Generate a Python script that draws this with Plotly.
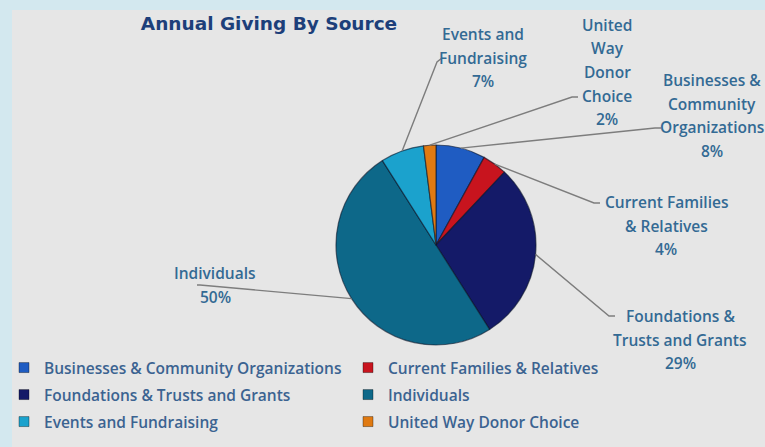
import math
import plotly.graph_objects as go

# ---------------- data ----------------
categories = ["Businesses & Community Organizations", "Current Families & Relatives",
              "Foundations & Trusts and Grants", "Individuals",
              "Events and Fundraising", "United Way Donor Choice"]
values = [8, 4, 29, 50, 7, 2]
label_lines = [["Businesses &", "Community", "Organizations"],
               ["Current Families", "& Relatives"],
               ["Foundations &", "Trusts and Grants"],
               ["Individuals"],
               ["Events and", "Fundraising"],
               ["United", "Way", "Donor", "Choice"]]
colors = ["#1f5cc2", "#c8141e", "#141a68", "#0d6889", "#1ba2cd", "#e07a12"]
title_text = "Annual Giving By Source"

# ---------------- layout geometry (pixels) ----------------
W, H = 765, 447
ML, MR, MT, MB = 0, 0, 0, 0
PW, PH = W - ML - MR, H - MT - MB
CX, CY, R = 436, 245, 100

# per-label layout: (elbow px, end px, text center x, first line y)
label_layout = [
    ((655, 128), (661, 128), 712, 80),
    ((594, 203), (600, 203), 666, 202),
    ((609, 316), (615, 316), 680, 316),
    ((200, 285), (197, 285), 215, 273),
    ((437, 62), (442, 58), 483, 34),
    ((572, 97), (578, 97), 607, 25),
]
LINE_SP = 23.5

# legend rows (center y, px) and left x of first column marker centre
legend_rows_y = [368, 395, 422]
LEG_MARKER_X = 24
LEG_COL_SP = 344

def px2paper(x, y):
    return (x - ML) / PW, (H - MB - y) / PH

TEXT_COLOR = "#336a94"
LEG_COLOR = "#3b6391"
FONT = "Open Sans"

fig = go.Figure()
fig.add_trace(go.Pie(
    labels=categories, values=values, sort=False, direction="clockwise",
    rotation=0, textinfo="none", hoverinfo="label+percent", showlegend=False,
    marker=dict(colors=colors, line=dict(color="rgba(10,20,40,0.6)", width=1.2)),
    domain=dict(x=[(CX - R - ML) / PW, (CX + R - ML) / PW],
                y=[(H - MB - (CY + R)) / PH, (H - MB - (CY - R)) / PH]),
))

# legend entries (two per row, one legend per row)
legend_names = ["legend", "legend2", "legend3"]
for i, (cat, col) in enumerate(zip(categories, colors)):
    fig.add_trace(go.Scatter(
        x=[None], y=[None], mode="markers", name=cat,
        marker=dict(symbol="square", size=10, color=col,
                    line=dict(color="rgba(0,0,0,0.35)", width=1)),
        legend=legend_names[i // 2], hoverinfo="skip", showlegend=True))

shapes = []
# panel background
x0, y0 = px2paper(12, 10)
x1, y1 = px2paper(775, 460)
shapes.append(dict(type="rect", xref="paper", yref="paper", x0=x0, y0=y1, x1=x1, y1=y0,
                   fillcolor="#e6e6e6", line=dict(width=0), layer="below"))

annotations = []
total = sum(values)
cum = 0
for i, v in enumerate(values):
    mid = (cum + v / 2) / total * 2 * math.pi
    cum += v
    sx, sy = CX + R * math.sin(mid), CY - R * math.cos(mid)
    (ex, ey), (tx, ty), cx, fy = label_layout[i]
    p0 = px2paper(sx, sy)
    p1 = px2paper(ex, ey)
    p2 = px2paper(tx, ty)
    shapes.append(dict(type="path", xref="paper", yref="paper",
                       path=f"M {p0[0]},{p0[1]} L {p1[0]},{p1[1]} L {p2[0]},{p2[1]}",
                       line=dict(color="#7d7d7d", width=1.4)))
    pct = f"{round(v / total * 100)}%"
    lines = label_lines[i] + [pct]
    for k, t in enumerate(lines):
        ax, ay = px2paper(cx, fy + k * LINE_SP)
        annotations.append(dict(text=t, x=ax, y=ay, xref="paper", yref="paper",
                                showarrow=False, xanchor="center", yanchor="middle",
                                font=dict(family=FONT, size=15.5, color=TEXT_COLOR,
                                          weight=600)))

legend_layouts = {}
for r, name in enumerate(legend_names):
    lx, ly = px2paper(LEG_MARKER_X - 20, legend_rows_y[r])
    legend_layouts[name] = dict(
        orientation="h", x=lx, xanchor="left", y=ly, yanchor="middle",
        entrywidth=LEG_COL_SP - 45, entrywidthmode="pixels",
        font=dict(family=FONT, size=15.5, color=LEG_COLOR, weight=600),
        bgcolor="rgba(0,0,0,0)", traceorder="normal")

fig.update_layout(
    width=W, height=H,
    margin=dict(l=ML, r=MR, t=MT, b=MB),
    paper_bgcolor="#d3e8ef",
    plot_bgcolor="rgba(0,0,0,0)",
    xaxis=dict(visible=False, fixedrange=True),
    yaxis=dict(visible=False, fixedrange=True),
    title=dict(text=title_text, x=269 / W, xref="container", xanchor="center",
               y=1 - 24 / H, yref="container", yanchor="middle",
               font=dict(family="DejaVu Sans", size=18.5, color="#1d3f7a", weight="bold")),
    shapes=shapes,
    annotations=annotations,
    showlegend=True,
    **legend_layouts,
)

fig.write_html("out.html", config={"displayModeBar": False},
               post_script="document.body.style.margin='0';")
